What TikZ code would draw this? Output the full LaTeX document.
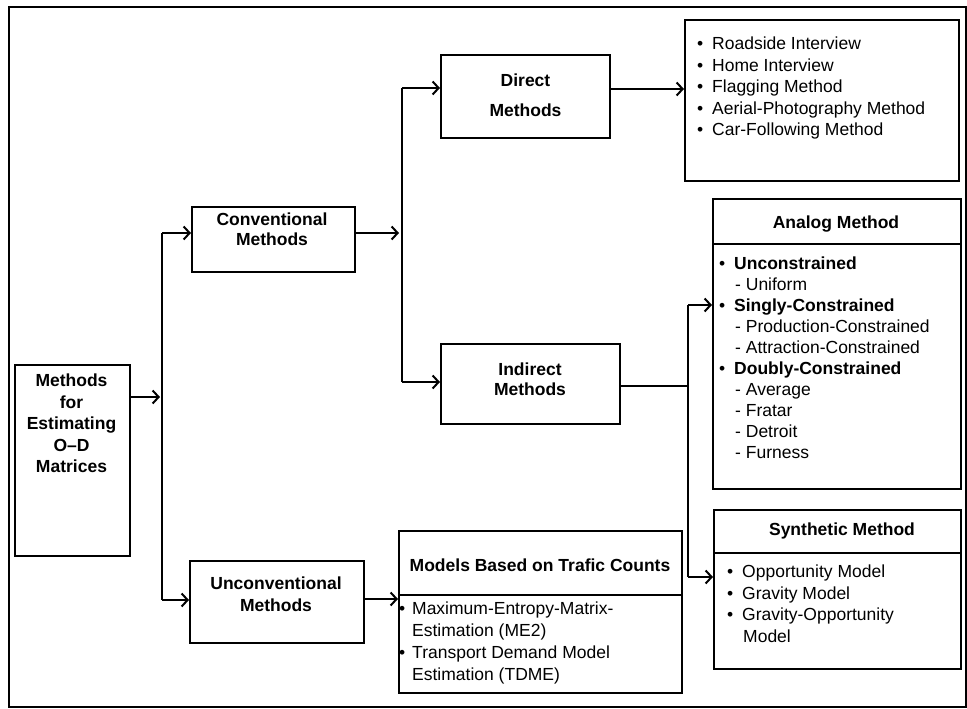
\documentclass[tikz,border=0pt]{standalone}
\usepackage{fontspec}
\setmainfont{Liberation Sans}
\usetikzlibrary{arrows.meta}
\begin{document}
\begin{tikzpicture}[x=1pt,y=-1pt,
  box/.style={draw, line width=2pt, inner sep=0pt, anchor=north west},
  txt/.style={inner sep=0pt, font=\fontsize{17.5}{21.5}\selectfont, align=center},
  btxt/.style={inner sep=0pt, font=\fontsize{17.5}{21.5}\selectfont\bfseries, align=center},
  lst/.style={inner sep=0pt, font=\fontsize{17.5}{21.5}\selectfont, align=left, anchor=north west},
  conn/.style={line width=2pt},
  arr/.style={line width=2pt, -{Straight Barb[length=6pt,width=13pt]}}]
\useasboundingbox (0,0) rectangle (967,709);
\fill[white] (0,0) rectangle (967,709);
\newcommand{\bul}{\makebox[15pt][l]{•}}
\newcommand{\bulm}{\makebox[13pt][l]{•}}
\newcommand{\ind}{\hspace*{16pt}}

% outer frame
\node[box, minimum width=957pt, minimum height=700pt] (frame) at (8,6) {};

% boxes
\node[box, minimum width=115pt, minimum height=191pt] (methods) at (14,364) {};
\node[box, minimum width=163pt, minimum height=65pt] (conv) at (191,206) {};
\node[box, minimum width=174pt, minimum height=82pt] (unconv) at (189,560) {};
\node[box, minimum width=169pt, minimum height=83pt] (direct) at (440,54) {};
\node[box, minimum width=179pt, minimum height=80pt] (indirect) at (440,343) {};
\node[box, minimum width=274pt, minimum height=161pt] (dlist) at (684,19) {};
\node[box, minimum width=248pt, minimum height=45pt] (analoghead) at (712,198) {};
\node[box, minimum width=248pt, minimum height=245pt] (analogbody) at (712,243) {};
\node[box, minimum width=247pt, minimum height=43pt] (synthhead) at (713,509) {};
\node[box, minimum width=247pt, minimum height=116pt] (synthbody) at (713,552) {};
\node[box, minimum width=283pt, minimum height=64pt] (modelshead) at (398,530) {};
\node[box, minimum width=283pt, minimum height=98pt] (modelsbody) at (398,594) {};

% texts
\node[btxt, anchor=north] (methodsT) at (71.5,373.7) {Methods\\for\\Estimating\\O–D\\Matrices};
\node[btxt, anchor=north] (convT) at (272,212.7) {Conventional\\[-1.5pt]Methods};
\node[btxt, anchor=north] (unconvT) at (276,576.7) {Unconventional\\Methods};
\node[btxt, anchor=north] (directT) at (525.5,73.7) {Direct\\[8.5pt]Methods};
\node[btxt, anchor=north] (indirectT) at (530,362.7) {Indirect\\[-1.5pt]Methods};
\node[lst] (dlistT) at (697,36.7) {\bul Roadside Interview\\\bul Home Interview\\\bul Flagging Method\\\bul Aerial-Photography Method\\\bul Car-Following Method};
\node[btxt, anchor=base] (analogT) at (836,228.3) {Analog Method};
\node[lst, font=\fontsize{17.5}{21}\selectfont] (analogL) at (719,256.7) {\bul\textbf{Unconstrained}\\\ind- Uniform\\\bul\textbf{Singly-Constrained}\\\ind- Production-Constrained\\\ind- Attraction-Constrained\\\bul\textbf{Doubly-Constrained}\\\ind- Average\\\ind- Fratar\\\ind- Detroit\\\ind- Furness};
\node[btxt, anchor=base] (synthT) at (842,535.3) {Synthetic Method};
\node[lst] (synthL) at (727,564.7) {\bul Opportunity Model\\\bul Gravity Model\\\bul Gravity-Opportunity\\\ind Model};
\node[btxt, anchor=base] (modelsT) at (540,571.3) {Models Based on Trafic Counts};
\node[lst, font=\fontsize{17.5}{22}\selectfont] (modelsL) at (399,601.7) {\bulm Maximum-Entropy-Matrix-\\\hspace*{13pt}Estimation (ME2)\\\bulm Transport Demand Model\\\hspace*{13pt}Estimation (TDME)};

% junction coordinates
\coordinate (j1mid) at (162,397);
\coordinate (j1top) at (162,233);
\coordinate (j1bot) at (162,600);
\coordinate (j2mid) at (402,233);
\coordinate (j2top) at (402,88);
\coordinate (j2bot) at (402,382);
\coordinate (d1) at (609,89);
\coordinate (j3mid) at (688,386);
\coordinate (j3top) at (688,305);
\coordinate (j3bot) at (688,577);
\coordinate (u1) at (363,599);

% connectors
\draw[conn] (j1top) -- (j1bot);
\draw[arr] (methods.east |- j1mid) -- ([xshift=-2pt]j1mid);
\draw[arr] (j1top) -- (conv.west |- j1top);
\draw[arr] (j1bot) -- (unconv.west |- j1bot);

\draw[conn] (j2top) -- (j2bot);
\draw[arr] (conv.east |- j2mid) -- ([xshift=-3pt]j2mid);
\draw[arr] (j2top) -- (direct.west |- j2top);
\draw[arr] (j2bot) -- (indirect.west |- j2bot);

\draw[arr] (d1) -- (dlist.west |- d1);

\draw[conn] (j3top) -- (j3bot);
\draw[conn] (indirect.east |- j3mid) -- (j3mid);
\draw[arr] (j3top) -- (analogbody.west |- j3top);
\draw[arr] (j3bot) -- (synthbody.west |- j3bot);

\draw[arr] (u1) -- (modelsbody.west |- u1);
\end{tikzpicture}
\end{document}
